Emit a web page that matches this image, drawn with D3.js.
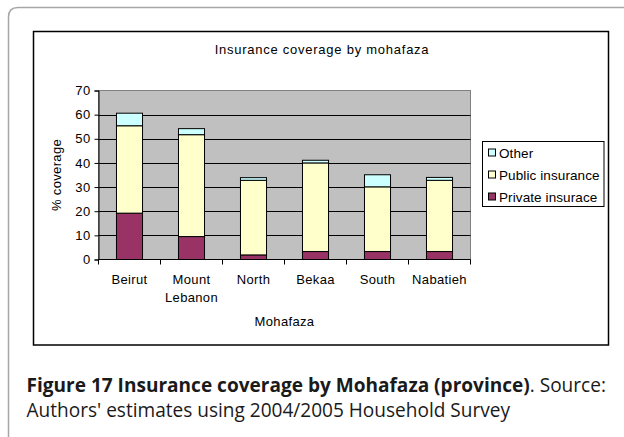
<!DOCTYPE html>
<html><head><meta charset="utf-8">
<script src="https://cdn.jsdelivr.net/npm/d3@7/dist/d3.min.js"></script>
<style>html,body{margin:0;padding:0;background:#fff;}svg{display:block;}</style>
</head><body>
<svg id="c" width="624" height="437"></svg>
<script>
const categories = [["Beirut"], ["Mount", "Lebanon"], ["North"], ["Bekaa"], ["South"], ["Nabatieh"]];
const seriesNames = ["Private insurace", "Public insurance", "Other"];
const privateIns = [19.2, 9.5, 1.9, 3.3, 3.3, 3.3];
const publicIns = [36.2, 42.2, 30.9, 36.7, 26.8, 29.5];
const otherIns = [5.2, 2.5, 1.1, 1.1, 5.0, 1.2];
const yTicks = [0, 10, 20, 30, 40, 50, 60, 70];
const colors = ["#993366", "#ffffcc", "#ccffff"];

const svg = d3.select("#c");
const font = "'Liberation Sans', Arial, sans-serif";
const fs = 13, ls = 0.35;

// outer figure frame (rounded, gray)
svg.append("path")
  .attr("d", "M8.5,440 L8.5,17 Q8.5,7.5 18,7.5 L630,7.5")
  .attr("fill", "none").attr("stroke", "#a6a6a6").attr("stroke-width", 1.5);

// chart box
svg.append("rect").attr("x", 33.5).attr("y", 31.5).attr("width", 575).attr("height", 313.5)
  .attr("fill", "#fff").attr("stroke", "#000").attr("stroke-width", 1.5);

const x0 = 98.5, x1 = 470.5, yT = 90.5, yB = 259.5;
const names = categories.map(c => c.join(" "));
const x = d3.scaleBand().domain(names).range([x0, x1]);
const y = d3.scaleLinear().domain([0, 70]).range([yB, yT]);

// plot bg
svg.append("rect").attr("x", x0).attr("y", yT).attr("width", x1 - x0).attr("height", yB - yT)
  .attr("fill", "#c0c0c0").attr("stroke", "#808080").attr("stroke-width", 1);

// gridlines
svg.append("g").selectAll("line").data(yTicks.filter(d => d > 0 && d < 70)).join("line")
  .attr("x1", x0).attr("x2", x1).attr("y1", d => Math.round(y(d)) + 0.5).attr("y2", d => Math.round(y(d)) + 0.5)
  .attr("stroke", "#000").attr("stroke-width", 1);

// stacked bars
const data = names.map((n, i) => ({ name: n, p0: privateIns[i], p1: publicIns[i], p2: otherIns[i] }));
const stack = d3.stack().keys(["p0", "p1", "p2"])(data);
const bw = x.bandwidth() * 0.42;
stack.forEach((layer, k) => {
  svg.append("g").selectAll("rect").data(layer).join("rect")
    .attr("x", d => x(d.data.name) + (x.bandwidth() - bw) / 2)
    .attr("y", d => y(d[1]))
    .attr("width", bw)
    .attr("height", d => y(d[0]) - y(d[1]))
    .attr("fill", colors[k]).attr("stroke", "#000").attr("stroke-width", 1);
});

// y axis
const yAxis = d3.axisLeft(y).tickValues(yTicks).tickSize(4).tickPadding(4);
const gy = svg.append("g").attr("transform", `translate(${x0},0)`).call(yAxis);
gy.select(".domain").attr("stroke", "#000");
gy.selectAll("line").attr("stroke", "#000");
gy.selectAll("text").attr("font-family", font).attr("font-size", fs).attr("letter-spacing", ls).attr("fill", "#000");

// x axis
const gx = svg.append("g").attr("transform", `translate(0,${yB})`);
gx.append("line").attr("x1", x0).attr("x2", x1).attr("stroke", "#000");
const bounds = names.map(n => x(n)).concat([x1]);
gx.selectAll("line.t").data(bounds).join("line").attr("class", "t")
  .attr("x1", d => d).attr("x2", d => d).attr("y1", 0).attr("y2", 5).attr("stroke", "#000");
categories.forEach((c, i) => {
  const t = gx.append("text").attr("x", x(names[i]) + x.bandwidth() / 2).attr("y", 24)
    .attr("text-anchor", "middle").attr("font-family", font).attr("font-size", fs).attr("letter-spacing", ls).attr("fill", "#000");
  c.forEach((line, j) => t.append("tspan").attr("x", x(names[i]) + x.bandwidth() / 2).attr("dy", j ? 18.5 : 0).text(line));
});

// axis titles
svg.append("text").attr("x", (x0 + x1) / 2).attr("y", 325.5).attr("text-anchor", "middle")
  .attr("font-family", font).attr("font-size", fs).attr("letter-spacing", ls).text("Mohafaza");
svg.append("text").attr("transform", "translate(61,175) rotate(-90)").attr("text-anchor", "middle")
  .attr("font-family", font).attr("font-size", fs).attr("letter-spacing", ls).text("% coverage");

// chart title
svg.append("text").attr("x", 322).attr("y", 53.5).attr("text-anchor", "middle")
  .attr("font-family", font).attr("font-size", 13).attr("letter-spacing", 0.75).text("Insurance coverage by mohafaza");

// legend
svg.append("rect").attr("x", 482.5).attr("y", 141.5).attr("width", 121.5).attr("height", 65)
  .attr("fill", "#fff").attr("stroke", "#000").attr("stroke-width", 1);
const legendOrder = [2, 1, 0];
const ly = [152.5, 174.5, 196.5];
legendOrder.forEach((k, i) => {
  svg.append("rect").attr("x", 488.5).attr("y", ly[i] - 3.5).attr("width", 7).attr("height", 7)
    .attr("fill", colors[k]).attr("stroke", "#000").attr("stroke-width", 1);
  svg.append("text").attr("x", 499).attr("y", ly[i] + 5).attr("font-family", font).attr("font-size", 13.5)
    .attr("letter-spacing", 0.1).text(seriesNames[k]);
});

// caption
const cf = "'Open Sans', 'Noto Sans', sans-serif";
const c1 = svg.append("text").attr("x", 26.5).attr("y", 392).attr("font-family", cf).attr("font-size", 17).attr("fill", "#1a1a1a");
c1.append("tspan").attr("font-weight", "bold").text("Figure 17 Insurance coverage by Mohafaza (province)");
c1.append("tspan").text(". Source:");
const c2 = svg.append("text").attr("x", 26.5).attr("y", 416.5).attr("font-family", cf).attr("font-size", 17).attr("fill", "#1a1a1a")
  .text("Authors' estimates using 2004/2005 Household Survey");
const w1 = c1.node().getComputedTextLength();
const s = 580 / w1;
c1.attr("font-size", 17 * s);
c2.attr("font-size", 17 * s);
</script>
</body></html>
